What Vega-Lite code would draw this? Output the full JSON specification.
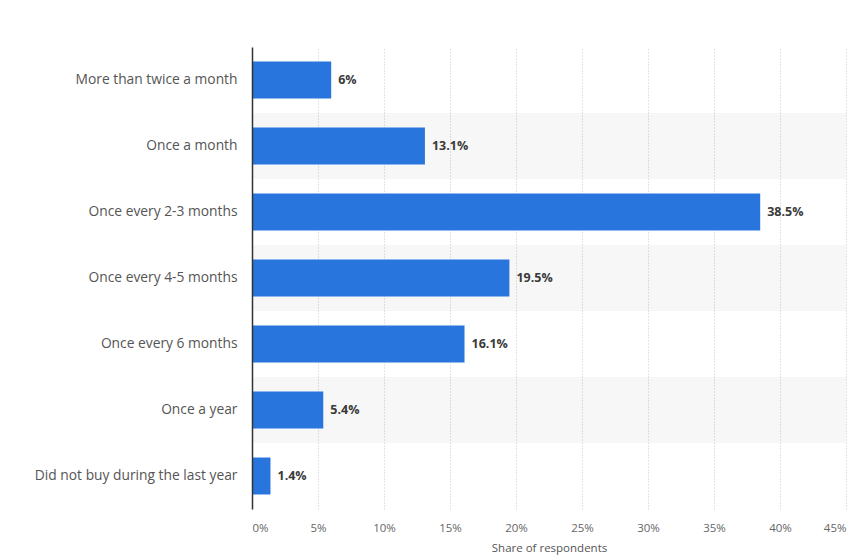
{
  "$schema": "https://vega.github.io/schema/vega-lite/v6.json",
  "width": 594,
  "height": 462,
  "autosize": {"type": "none"},
  "padding": {"left": 252, "top": 47, "right": 18, "bottom": 49},
  "background": "#ffffff",
  "config": {
    "view": {"stroke": null},
    "font": "Open Sans"
  },
  "datasets": {
    "main": [
      {"answer": "More than twice a month", "share": 6},
      {"answer": "Once a month", "share": 13.1},
      {"answer": "Once every 2-3 months", "share": 38.5},
      {"answer": "Once every 4-5 months", "share": 19.5},
      {"answer": "Once every 6 months", "share": 16.1},
      {"answer": "Once a year", "share": 5.4},
      {"answer": "Did not buy during the last year", "share": 1.4}
    ],
    "bands": [
      {"answer": "Once a month"},
      {"answer": "Once every 4-5 months"},
      {"answer": "Once a year"}
    ]
  },
  "encoding": {
    "y": {
      "field": "answer",
      "type": "nominal",
      "sort": null,
      "scale": {
        "domain": ["More than twice a month", "Once a month", "Once every 2-3 months", "Once every 4-5 months", "Once every 6 months", "Once a year", "Did not buy during the last year"],
        "paddingInner": 0,
        "paddingOuter": 0
      },
      "axis": {
        "title": null,
        "ticks": false,
        "domain": true,
        "domainColor": "#333333",
        "domainWidth": 1.5,
        "labelFont": "Open Sans",
        "labelFontSize": 13.8,
        "labelColor": "#555555",
        "labelPadding": 15,
        "labelLimit": 300
      }
    }
  },
  "layer": [
    {
      "data": {"name": "bands"},
      "mark": {"type": "rect", "fill": "#000000", "opacity": 0.03},
      "encoding": {
        "x": {"datum": 0, "type": "quantitative"},
        "x2": {"datum": 45}
      }
    },
    {
      "data": {"name": "main"},
      "mark": {"type": "bar", "color": "#2876dd", "height": {"band": 0.56}},
      "encoding": {
        "x": {
          "field": "share",
          "type": "quantitative",
          "scale": {"domain": [0, 45], "nice": false},
          "axis": {
            "values": [0, 5, 10, 15, 20, 25, 30, 35, 40, 45],
            "labelExpr": "datum.value + '%'",
            "title": "Share of respondents",
            "titleFont": "Open Sans",
            "titleFontSize": 11.5,
            "titleFontWeight": "normal",
            "titleColor": "#555555",
            "titlePadding": 9,
            "labelFont": "Open Sans",
            "labelFontSize": 11.5,
            "labelColor": "#666666",
            "labelPadding": 13,
            "ticks": false,
            "domain": false,
            "grid": true,
            "gridColor": "#c8c8c8",
            "gridDash": [1, 2],
            "gridWidth": 1
          }
        }
      }
    },
    {
      "data": {"name": "main"},
      "transform": [{"calculate": "datum.share + '%'", "as": "label"}],
      "mark": {"type": "text", "align": "left", "baseline": "middle", "dx": 7, "font": "Open Sans", "fontSize": 12.5, "fontWeight": "bold", "color": "#3a3a3a"},
      "encoding": {
        "x": {"field": "share", "type": "quantitative"},
        "text": {"field": "label"}
      }
    }
  ]
}
